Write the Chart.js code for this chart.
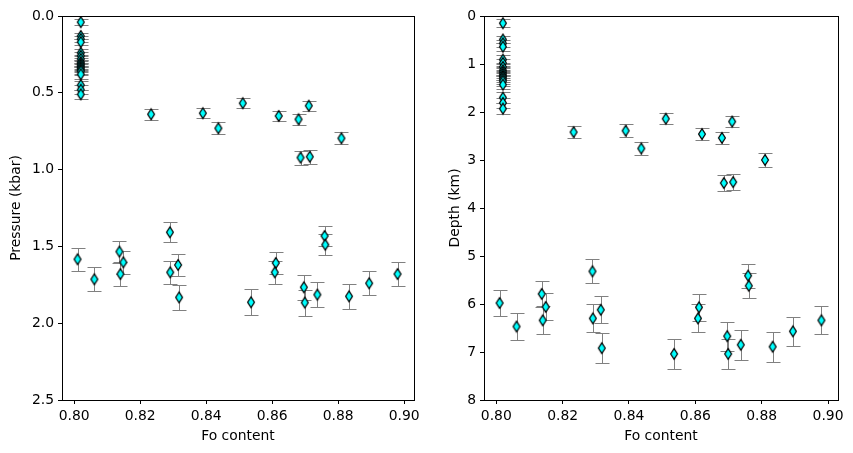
<!DOCTYPE html>
<html>
<head>
<meta charset="utf-8">
<script src="https://cdn.jsdelivr.net/npm/chart.js@4.4.1/dist/chart.umd.min.js"></script>
<style>
  html, body { margin: 0; padding: 0; background: #fff; }
  #wrap { position: relative; width: 853px; height: 453px; }
  .box { position: absolute; top: 0; height: 453px; }
</style>
</head>
<body>
<div id="wrap">
  <div class="box" style="left:0;width:430px"><canvas id="c1" width="430" height="453"></canvas></div>
  <div class="box" style="left:430px;width:423px"><canvas id="c2" width="423" height="453"></canvas></div>
</div>
<script>
// olivine Fo content per sample
const foContent = [
  0.802, 0.802, 0.802, 0.802, 0.802, 0.802, 0.802, 0.802, 0.802,
  0.802, 0.802, 0.802, 0.802, 0.802, 0.802, 0.802, 0.802, 0.802,
  0.8233, 0.839, 0.8437, 0.8511, 0.862, 0.868, 0.8711, 0.8686, 0.8714, 0.881,
  0.801, 0.8061, 0.8137, 0.8149, 0.814, 0.829, 0.8291, 0.8315, 0.8318, 0.8536,
  0.8611, 0.8608, 0.8696, 0.8699, 0.8737, 0.8759, 0.8761, 0.8833, 0.8894, 0.898
];
// pressure (kbar) and 1-sigma
const pressure = [
  0.04, 0.13, 0.15, 0.17, 0.24, 0.26, 0.28, 0.30, 0.31,
  0.32, 0.33, 0.34, 0.35, 0.36, 0.38, 0.45, 0.48, 0.51,
  0.64, 0.633, 0.731, 0.568, 0.651, 0.673, 0.584, 0.922, 0.916, 0.796,
  1.584, 1.714, 1.534, 1.604, 1.68, 1.408, 1.669, 1.621, 1.832, 1.864,
  1.608, 1.669, 1.766, 1.866, 1.814, 1.432, 1.489, 1.825, 1.74, 1.68
];
const pressureErr = [
  0.020, 0.021, 0.021, 0.022, 0.023, 0.024, 0.024, 0.025, 0.025,
  0.025, 0.025, 0.026, 0.026, 0.026, 0.027, 0.029, 0.030, 0.031,
  0.034, 0.034, 0.038, 0.032, 0.035, 0.035, 0.033, 0.045, 0.045, 0.040,
  0.073, 0.078, 0.071, 0.073, 0.077, 0.066, 0.076, 0.074, 0.083, 0.084,
  0.074, 0.076, 0.080, 0.084, 0.082, 0.067, 0.069, 0.082, 0.079, 0.077
];
// depth (km) and 1-sigma
const depth = [
  0.15, 0.49, 0.57, 0.64, 0.91, 0.98, 1.06, 1.13, 1.17,
  1.21, 1.25, 1.28, 1.32, 1.36, 1.43, 1.70, 1.81, 1.93,
  2.42, 2.39, 2.76, 2.14, 2.46, 2.54, 2.20, 3.48, 3.46, 3.00,
  5.98, 6.47, 5.79, 6.06, 6.34, 5.32, 6.30, 6.12, 6.92, 7.04,
  6.07, 6.30, 6.67, 7.04, 6.85, 5.41, 5.62, 6.89, 6.57, 6.34
];
const depthErr = [
  0.08, 0.08, 0.08, 0.08, 0.09, 0.09, 0.09, 0.09, 0.09,
  0.09, 0.09, 0.10, 0.10, 0.10, 0.10, 0.11, 0.11, 0.12,
  0.13, 0.13, 0.14, 0.12, 0.13, 0.13, 0.12, 0.17, 0.17, 0.15,
  0.28, 0.29, 0.27, 0.28, 0.29, 0.25, 0.29, 0.28, 0.31, 0.32,
  0.28, 0.29, 0.30, 0.32, 0.31, 0.25, 0.26, 0.31, 0.30, 0.29
];
const xTicks = [0.80, 0.82, 0.84, 0.86, 0.88, 0.90];
const pressureTicks = [0, 0.5, 1.0, 1.5, 2.0, 2.5];
const depthTicks = [0, 1, 2, 3, 4, 5, 6, 7, 8];

const FONT = { family: 'DejaVu Sans', size: 13.9 };
Chart.defaults.color = '#000';

function diamondMarker() {
  const c = document.createElement('canvas');
  c.width = 10; c.height = 14;
  const g = c.getContext('2d');
  g.beginPath();
  g.moveTo(5, 1.7); g.lineTo(8.4, 7); g.lineTo(5, 12.3); g.lineTo(1.6, 7);
  g.closePath();
  g.fillStyle = '#00ffff';
  g.fill();
  g.lineWidth = 1.25;
  g.strokeStyle = '#000';
  g.stroke();
  return c;
}
const marker = diamondMarker();

const errorBars = {
  id: 'errorBars',
  beforeDatasetsDraw(chart) {
    const { ctx, scales: { x, y } } = chart;
    ctx.save();
    ctx.strokeStyle = '#808080';
    ctx.lineWidth = 1;
    chart.data.datasets[0].data.forEach(p => {
      const px = Math.round(x.getPixelForValue(p.x)) + 0.5;
      const y1 = Math.round(y.getPixelForValue(p.y - p.err)) + 0.5;
      const y2 = Math.round(y.getPixelForValue(p.y + p.err)) + 0.5;
      ctx.beginPath();
      ctx.moveTo(px, y1); ctx.lineTo(px, y2);
      ctx.moveTo(px - 7, y1); ctx.lineTo(px + 7, y1);
      ctx.moveTo(px - 7, y2); ctx.lineTo(px + 7, y2);
      ctx.stroke();
    });
    ctx.restore();
  },
  afterDraw(chart) {
    const { ctx, chartArea: a } = chart;
    ctx.save();
    ctx.strokeStyle = '#000';
    ctx.lineWidth = 1;
    ctx.strokeRect(Math.round(a.left) + 0.5, Math.round(a.top) + 0.5,
      Math.round(a.right - a.left), Math.round(a.bottom - a.top));
    ctx.restore();
  }
};

function makeChart(id, yVals, yErr, yTicks, yMax, yTitle, yFmt, yWidth, pad) {
  const pts = foContent.map((f, i) => ({ x: f, y: yVals[i], err: yErr[i] }));
  return new Chart(document.getElementById(id), {
    type: 'scatter',
    data: {
      datasets: [{
        data: pts,
        pointStyle: marker,
        pointRadius: 5,
        showLine: false
      }]
    },
    options: {
      responsive: false,
      animation: false,
      layout: { padding: pad },
      plugins: { legend: { display: false }, tooltip: { enabled: false } },
      scales: {
        x: {
          type: 'linear',
          min: 0.7963,
          max: 0.903,
          afterBuildTicks: s => { s.ticks = xTicks.map(v => ({ value: v })); },
          afterFit: s => { s.height = 53; },
          ticks: { font: FONT, padding: 4, maxRotation: 0, callback: v => v.toFixed(2) },
          grid: { drawOnChartArea: false, drawTicks: true, tickLength: 4, color: '#000' },
          border: { display: true, color: '#000' },
          title: { display: true, text: 'Fo content', font: FONT, padding: { top: 2, bottom: 8 } }
        },
        y: {
          type: 'linear',
          reverse: true,
          min: 0,
          max: yMax,
          afterBuildTicks: s => { s.ticks = yTicks.map(v => ({ value: v })); },
          afterFit: s => { s.width = yWidth; },
          ticks: { font: FONT, padding: 4, callback: yFmt },
          grid: { drawOnChartArea: false, drawTicks: true, tickLength: 4, color: '#000' },
          border: { display: true, color: '#000' },
          title: { display: true, text: yTitle, font: FONT, padding: { top: 4, bottom: 4 } }
        }
      }
    },
    plugins: [errorBars]
  });
}

makeChart('c1', pressure, pressureErr, pressureTicks, 2.5, 'Pressure (kbar)',
  v => v.toFixed(1), 58, { left: 4, right: 16, top: 16, bottom: 0 });
makeChart('c2', depth, depthErr, depthTicks, 8, 'Depth (km)',
  v => String(v), 41, { left: 13, right: 15, top: 16, bottom: 0 });
</script>
</body>
</html>
